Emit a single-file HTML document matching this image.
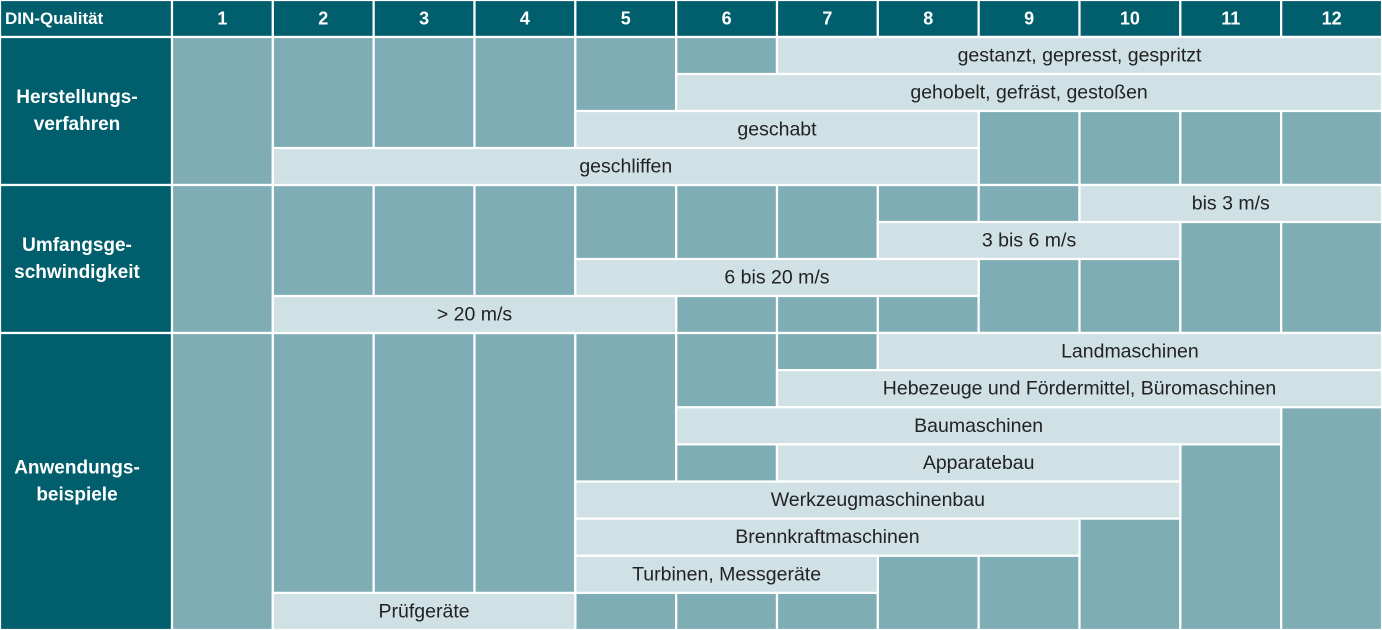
<!DOCTYPE html>
<html><head><meta charset="utf-8"><style>
html,body{margin:0;padding:0;background:#fff;}
svg{display:block;font-family:"Liberation Sans",sans-serif;}
</style></head><body>
<svg id="c" width="1382" height="630"></svg>
<script>
const columns=["1","2","3","4","5","6","7","8","9","10","11","12"];
const sections=["Herstellungs-|verfahren","Umfangsge-|schwindigkeit","Anwendungs-|beispiele"];
const sectionRows=[4,4,8];
const barLabels=["gestanzt, gepresst, gespritzt","gehobelt, gefräst, gestoßen","geschabt","geschliffen",
"bis 3 m/s","3 bis 6 m/s","6 bis 20 m/s","> 20 m/s",
"Landmaschinen","Hebezeuge und Fördermittel, Büromaschinen","Baumaschinen","Apparatebau","Werkzeugmaschinenbau","Brennkraftmaschinen","Turbinen, Messgeräte","Prüfgeräte"];
const barSection=[0,0,0,0,1,1,1,1,2,2,2,2,2,2,2,2];
const barRow=[0,1,2,3,0,1,2,3,0,1,2,3,4,5,6,7];
const barStart=[7,6,5,2,10,8,5,2,8,7,6,7,5,5,5,2];
const barEnd=[12,12,8,8,12,10,8,5,12,12,11,10,10,9,7,4];

const svg=document.getElementById('c');const NS="http://www.w3.org/2000/svg";
const DARK="#015f6d",MED="#7fadb5",LIGHT="#d0e1e5";
const x0=172,cw=(1382-172)/12,hh=37;
const secY=[37,185,333,630];
const colX=i=>x0+(i-1)*cw;
function rowY(s,r){return secY[s]+(secY[s+1]-secY[s])/sectionRows[s]*r;}
function rect(x,y,w,h,f,name){const e=document.createElementNS(NS,'rect');e.setAttribute('x',x);e.setAttribute('y',y);e.setAttribute('width',w);e.setAttribute('height',h);e.setAttribute('fill',f);e.setAttribute('stroke','#fff');e.setAttribute('stroke-width',2.2);


svg.appendChild(e);return e;}
function text(x,y,t,size,bold,fill,anchor,name){const e=document.createElementNS(NS,'text');e.setAttribute('x',x);e.setAttribute('y',y);e.setAttribute('font-size',size);if(bold)e.setAttribute('font-weight','bold');e.setAttribute('fill',fill);e.setAttribute('text-anchor',anchor);e.setAttribute('dominant-baseline','central');e.textContent=t;


svg.appendChild(e);}
rect(0,0,x0,hh,DARK,'header-corner');
text(5,hh/2,"DIN-Qualität",17,true,"#fff","start",'header-title');
columns.forEach((c,i)=>{rect(colX(i+1),0,cw,hh,DARK,'column-header-'+c);text(colX(i+1)+cw/2,hh/2,c,18,true,"#fff","middle",'column-label-'+c);});
sections.forEach((s,k)=>{const y=secY[k],h=secY[k+1]-y;
rect(0,y,x0,h,DARK,'section-label-cell');
const lines=s.split('|');
lines.forEach((l,j)=>text(77,y+h/2+(j-0.5)*27,l,19,true,"#fff","middle",'section-label'));
columns.forEach((c,i)=>rect(colX(i+1),y,cw,h,MED,'grid-cell'));});
barLabels.forEach((l,i)=>{const s=barSection[i];const y=rowY(s,barRow[i]),y2=rowY(s,barRow[i]+1);
const x=colX(barStart[i]),x2=colX(barEnd[i]+1);
rect(x,y,x2-x,y2-y,LIGHT,'range-bar');
text((x+x2)/2,(y+y2)/2,l,19.5,false,"#222","middle",'range-bar-label');});
</script>
</body></html>
